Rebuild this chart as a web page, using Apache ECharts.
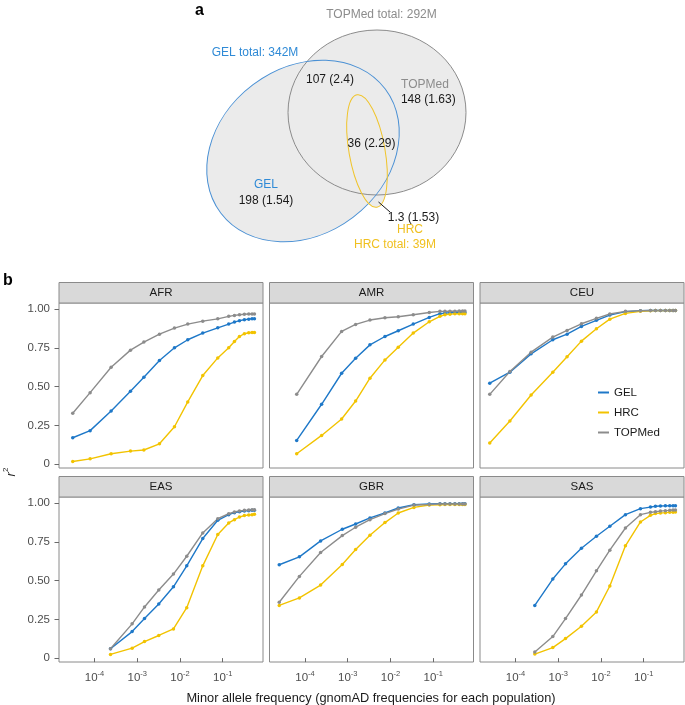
<!DOCTYPE html>
<html>
<head>
<meta charset="utf-8">
<script src="https://cdn.jsdelivr.net/npm/echarts@6.0.0/dist/echarts.min.js"></script>
<style>
html,body{margin:0;padding:0;background:#ffffff;}
#chart{width:685px;height:705px;}
</style>
</head>
<body>
<div id="chart"></div>
<script>
// ---------------- DATA ----------------
const populations = ['AFR', 'AMR', 'CEU', 'EAS', 'GBR', 'SAS'];
const panelSets = ['GEL', 'HRC', 'TOPMed'];
const xTickValues = [1e-4, 1e-3, 1e-2, 1e-1];
const yTickValues = [0, 0.25, 0.5, 0.75, 1];

// minor allele frequency of each bin, per population
const mafAFR = [3.1e-5, 7.9e-5, 2.45e-4, 6.95e-4, 1.43e-3, 3.31e-3, 7.43e-3, 0.0152, 0.0341, 0.0766, 0.138, 0.188, 0.246, 0.321, 0.406, 0.486, 0.551];
const mafAMR = [6.4e-5, 2.45e-4, 7.2e-4, 1.53e-3, 3.31e-3, 7.43e-3, 0.0152, 0.0341, 0.0807, 0.1435, 0.188, 0.246, 0.321, 0.406, 0.486, 0.551];
const mafCEU = [2.5e-5, 7.4e-5, 2.32e-4, 7.46e-4, 1.61e-3, 3.49e-3, 7.83e-3, 0.0161, 0.0373, 0.0838, 0.1435, 0.188, 0.246, 0.321, 0.406, 0.486, 0.551];
const mafEAS = [2.37e-4, 7.6e-4, 1.48e-3, 3.19e-3, 7.03e-3, 0.0144, 0.0341, 0.0766, 0.138, 0.188, 0.246, 0.321, 0.406, 0.486, 0.551];
const mafGBR = [2.5e-5, 7.4e-5, 2.32e-4, 7.46e-4, 1.53e-3, 3.31e-3, 7.43e-3, 0.0152, 0.0354, 0.0807, 0.1435, 0.188, 0.246, 0.321, 0.406, 0.486, 0.551];
const mafSAS = [2.83e-4, 7.46e-4, 1.48e-3, 3.49e-3, 7.83e-3, 0.0161, 0.0373, 0.0838, 0.1435, 0.188, 0.246, 0.321, 0.406, 0.486, 0.551];

// r2 values
const AFR_GEL    = [0.170, 0.216, 0.343, 0.470, 0.560, 0.668, 0.750, 0.802, 0.845, 0.879, 0.903, 0.916, 0.925, 0.931, 0.935, 0.938, 0.938];
const AFR_HRC    = [0.017, 0.034, 0.067, 0.084, 0.091, 0.131, 0.241, 0.401, 0.571, 0.685, 0.750, 0.791, 0.823, 0.841, 0.847, 0.849, 0.849];
const AFR_TOPMed = [0.328, 0.461, 0.625, 0.735, 0.787, 0.838, 0.877, 0.903, 0.922, 0.937, 0.953, 0.959, 0.963, 0.966, 0.968, 0.968, 0.968];

const AMR_GEL    = [0.153, 0.386, 0.586, 0.683, 0.769, 0.823, 0.860, 0.903, 0.946, 0.970, 0.974, 0.976, 0.977, 0.978, 0.978, 0.978];
const AMR_HRC    = [0.067, 0.185, 0.291, 0.407, 0.554, 0.672, 0.754, 0.845, 0.918, 0.953, 0.963, 0.967, 0.969, 0.970, 0.970, 0.970];
const AMR_TOPMed = [0.450, 0.694, 0.856, 0.901, 0.929, 0.944, 0.950, 0.963, 0.978, 0.985, 0.985, 0.986, 0.986, 0.987, 0.987, 0.987];

const CEU_GEL    = [0.522, 0.593, 0.711, 0.802, 0.838, 0.888, 0.927, 0.961, 0.983, 0.989, 0.991, 0.991, 0.991, 0.991, 0.991, 0.991, 0.991];
const CEU_HRC    = [0.136, 0.278, 0.446, 0.593, 0.692, 0.793, 0.873, 0.935, 0.972, 0.985, 0.989, 0.990, 0.990, 0.990, 0.990, 0.990, 0.990];
const CEU_TOPMed = [0.450, 0.597, 0.722, 0.819, 0.862, 0.905, 0.940, 0.968, 0.985, 0.989, 0.991, 0.991, 0.991, 0.991, 0.991, 0.991, 0.991];

const EAS_GEL    = [0.060, 0.171, 0.255, 0.349, 0.460, 0.595, 0.771, 0.889, 0.925, 0.938, 0.944, 0.949, 0.951, 0.953, 0.953];
const EAS_HRC    = [0.024, 0.064, 0.107, 0.146, 0.188, 0.325, 0.595, 0.797, 0.872, 0.893, 0.910, 0.919, 0.923, 0.925, 0.927];
const EAS_TOPMed = [0.060, 0.221, 0.330, 0.439, 0.542, 0.657, 0.807, 0.899, 0.931, 0.942, 0.949, 0.953, 0.955, 0.957, 0.957];

const GBR_GEL    = [0.602, 0.653, 0.756, 0.831, 0.865, 0.904, 0.936, 0.968, 0.989, 0.994, 0.996, 0.996, 0.996, 0.996, 0.996, 0.996, 0.996];
const GBR_HRC    = [0.340, 0.388, 0.471, 0.604, 0.700, 0.792, 0.874, 0.936, 0.972, 0.987, 0.989, 0.991, 0.991, 0.991, 0.991, 0.991, 0.991];
const GBR_TOPMed = [0.360, 0.527, 0.681, 0.790, 0.844, 0.893, 0.932, 0.961, 0.987, 0.991, 0.994, 0.994, 0.994, 0.994, 0.994, 0.994, 0.994];

const SAS_GEL    = [0.340, 0.510, 0.608, 0.709, 0.786, 0.850, 0.925, 0.964, 0.974, 0.979, 0.981, 0.982, 0.983, 0.983, 0.983];
const SAS_HRC    = [0.026, 0.068, 0.126, 0.206, 0.298, 0.465, 0.724, 0.878, 0.921, 0.932, 0.936, 0.938, 0.940, 0.941, 0.942];
const SAS_TOPMed = [0.039, 0.139, 0.255, 0.407, 0.563, 0.696, 0.839, 0.925, 0.940, 0.944, 0.948, 0.951, 0.953, 0.955, 0.955];

// Venn diagram (panel a)
const vennTotals = ['GEL total: 342M', 'TOPMed total: 292M', 'HRC total: 39M'];
const vennRegionLabels = ['198 (1.54)', '107 (2.4)', '148 (1.63)', '36 (2.29)', '1.3 (1.53)'];

// ---------------- LAYOUT / STYLE ----------------
const FONT = '"Liberation Sans", Arial, sans-serif';
const setColors = { GEL: '#1e78c8', HRC: '#f2c300', TOPMed: '#8c8c8c' };
const mafByPop = { AFR: mafAFR, AMR: mafAMR, CEU: mafCEU, EAS: mafEAS, GBR: mafGBR, SAS: mafSAS };
const r2ByPop = {
  AFR: { GEL: AFR_GEL, HRC: AFR_HRC, TOPMed: AFR_TOPMed },
  AMR: { GEL: AMR_GEL, HRC: AMR_HRC, TOPMed: AMR_TOPMed },
  CEU: { GEL: CEU_GEL, HRC: CEU_HRC, TOPMed: CEU_TOPMed },
  EAS: { GEL: EAS_GEL, HRC: EAS_HRC, TOPMed: EAS_TOPMed },
  GBR: { GEL: GBR_GEL, HRC: GBR_HRC, TOPMed: GBR_TOPMed },
  SAS: { GEL: SAS_GEL, HRC: SAS_HRC, TOPMed: SAS_TOPMed }
};
const gridLefts = [59, 269.5, 480];
const gridTops = [303, 497];
const gridW = 204, gridH = 165, stripH = 20.5;
const xMin = Math.pow(10, -4.83), xMax = Math.pow(10, -0.058);
const yMin = -0.025, yMax = 1.039;

const grids = [], xAxes = [], yAxes = [], series = [], graphics = [];

populations.forEach((pop, i) => {
  const col = i % 3, row = Math.floor(i / 3);
  const left = gridLefts[col], top = gridTops[row];
  grids.push({ left: left, top: top, width: gridW, height: gridH, show: true,
    borderColor: '#8a8a8a', borderWidth: 1, backgroundColor: '#ffffff' });
  xAxes.push({
    gridIndex: i, type: 'log', logBase: 10, min: xMin, max: xMax,
    axisLine: { show: false }, splitLine: { show: false }, minorTick: { show: false },
    axisTick: { show: row === 1, length: 4, customValues: xTickValues, lineStyle: { color: '#6a6a6a' } },
    axisLabel: {
      show: row === 1, customValues: xTickValues, margin: 8,
      formatter: v => '{b|10}{s|-' + Math.abs(Math.round(Math.log10(v))) + '}',
      rich: {
        b: { fontSize: 11.5, fontFamily: FONT, color: '#4d4d4d', lineHeight: 14, verticalAlign: 'bottom' },
        s: { fontSize: 7.5, fontFamily: FONT, color: '#4d4d4d', lineHeight: 8, verticalAlign: 'top' }
      }
    }
  });
  yAxes.push({
    gridIndex: i, type: 'value', min: yMin, max: yMax,
    axisLine: { show: false }, splitLine: { show: false },
    axisTick: { show: col === 0, length: 4.5, customValues: yTickValues, lineStyle: { color: '#6a6a6a' } },
    axisLabel: { show: col === 0, customValues: yTickValues, margin: 9, fontSize: 11.5, fontFamily: FONT, color: '#4d4d4d',
      formatter: v => (v === 0 ? '0' : v.toFixed(2)) }
  });
  panelSets.forEach(s => {
    const xs = mafByPop[pop], ys = r2ByPop[pop][s];
    series.push({
      type: 'line', name: s, xAxisIndex: i, yAxisIndex: i,
      data: xs.map((x, k) => [x, ys[k]]),
      symbol: 'circle', symbolSize: 3.5, showSymbol: true,
      lineStyle: { width: 1.4, color: setColors[s] },
      itemStyle: { color: setColors[s] },
      silent: true, animation: false
    });
  });
  // facet strip
  graphics.push({ type: 'rect', shape: { x: left, y: top - stripH, width: gridW, height: stripH },
    style: { fill: '#d9d9d9', stroke: '#8a8a8a', lineWidth: 1 }, z: 10 });
  graphics.push({ type: 'text', x: left + gridW / 2, y: top - stripH / 2,
    style: { text: pop, fill: '#1a1a1a', fontSize: 11.5, fontFamily: FONT, align: 'center', verticalAlign: 'middle' }, z: 11 });
});

// axis titles and panel letters
graphics.push({ type: 'text', x: 371, y: 698,
  style: { text: 'Minor allele frequency (gnomAD frequencies for each population)', fill: '#1a1a1a', fontSize: 12.8, fontFamily: FONT, align: 'center', verticalAlign: 'middle' } });
graphics.push({ type: 'text', x: 10, y: 472, rotation: Math.PI / 2,
  style: { text: '{r|r}{s|2}', align: 'center', verticalAlign: 'middle',
    rich: { r: { fontSize: 13, fontStyle: 'italic', fontFamily: FONT, fill: '#1a1a1a', lineHeight: 16, verticalAlign: 'bottom' },
            s: { fontSize: 8, fontFamily: FONT, fill: '#1a1a1a', lineHeight: 9, verticalAlign: 'top' } } } });
graphics.push({ type: 'text', x: 195, y: 11,
  style: { text: 'a', fill: '#000', fontSize: 16, fontWeight: 'bold', fontFamily: FONT, align: 'left', verticalAlign: 'middle' } });
graphics.push({ type: 'text', x: 3, y: 281,
  style: { text: 'b', fill: '#000', fontSize: 16, fontWeight: 'bold', fontFamily: FONT, align: 'left', verticalAlign: 'middle' } });

// Venn ellipses
const deg = Math.PI / 180;
const vennShapes = [
  { x: 377, y: 112.5, rx: 89, ry: 82.5, rot: 0, stroke: '#8c8c8c' },       // TOPMed
  { x: 303, y: 151, rx: 103, ry: 83, rot: 37 * deg, stroke: '#4a90d4' },   // GEL
  { x: 367, y: 151, rx: 18, ry: 57, rot: 10 * deg, stroke: '#f0c42a' }     // HRC
];
vennShapes.forEach(e => graphics.push({ type: 'ellipse', x: e.x, y: e.y, rotation: e.rot,
  shape: { cx: 0, cy: 0, rx: e.rx, ry: e.ry }, style: { fill: '#ebebeb', stroke: null }, z: 1 }));
vennShapes.forEach(e => graphics.push({ type: 'ellipse', x: e.x, y: e.y, rotation: e.rot,
  shape: { cx: 0, cy: 0, rx: e.rx, ry: e.ry }, style: { fill: null, stroke: e.stroke, lineWidth: 1 }, z: 2 }));
graphics.push({ type: 'line', shape: { x1: 378.5, y1: 202, x2: 390, y2: 212 }, style: { stroke: '#1a1a1a', lineWidth: 1 }, z: 3 });

const vennTexts = [
  { t: vennTotals[1], x: 381.5, y: 15, c: '#8c8c8c' },
  { t: vennTotals[0], x: 255, y: 52.7, c: '#2f8ad6' },
  { t: vennRegionLabels[1], x: 330, y: 80, c: '#1a1a1a' },
  { t: 'TOPMed', x: 425, y: 85, c: '#8c8c8c' },
  { t: vennRegionLabels[2], x: 428.3, y: 100, c: '#1a1a1a' },
  { t: vennRegionLabels[3], x: 371.5, y: 144, c: '#1a1a1a' },
  { t: 'GEL', x: 266, y: 184.3, c: '#2f8ad6' },
  { t: vennRegionLabels[0], x: 266, y: 201, c: '#1a1a1a' },
  { t: vennRegionLabels[4], x: 413.5, y: 217.3, c: '#1a1a1a' },
  { t: 'HRC', x: 410, y: 230, c: '#f0c020' },
  { t: vennTotals[2], x: 395, y: 245, c: '#f0c020' }
];
vennTexts.forEach(d => graphics.push({ type: 'text', x: d.x, y: d.y, z: 5,
  style: { text: d.t, fill: d.c, fontSize: 12, fontFamily: FONT, align: 'center', verticalAlign: 'middle' } }));

const chart = echarts.init(document.getElementById('chart'), null, { renderer: 'canvas' });
chart.setOption({
  animation: false,
  backgroundColor: '#ffffff',
  grid: grids, xAxis: xAxes, yAxis: yAxes, series: series,
  legend: {
    data: panelSets, orient: 'vertical', left: 593, top: 380, icon: 'rect',
    itemWidth: 11, itemHeight: 2, itemGap: 5, selectedMode: false,
    textStyle: { fontSize: 11.5, fontFamily: FONT, color: '#1a1a1a', lineHeight: 15 }
  },
  graphic: { elements: graphics }
});
</script>
</body>
</html>
